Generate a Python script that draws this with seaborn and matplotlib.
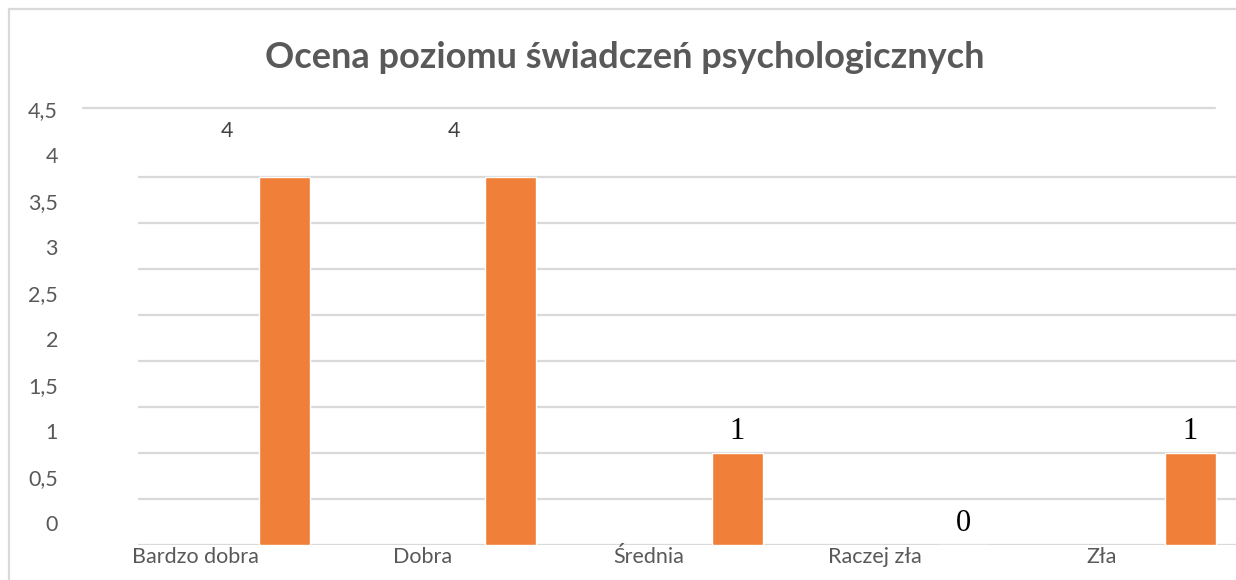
import numpy as np
import matplotlib
matplotlib.use("Agg")
import matplotlib.pyplot as plt
import matplotlib.transforms as mtransforms
from matplotlib.patches import Rectangle
import seaborn as sns

# ---- data ----
categories = ["Bardzo dobra", "Dobra", "Średnia", "Raczej zła", "Zła"]
values = [4, 4, 1, 0, 1]
value_labels = ["4", "4", "1", "0", "1"]
label_styles = ["sans", "sans", "serif", "serif", "serif"]
y_ticks = [0, 0.5, 1, 1.5, 2, 2.5, 3, 3.5, 4, 4.5]
y_tick_labels = ["0", "0,5", "1", "1,5", "2", "2,5", "3", "3,5", "4", "4,5"]
title = "Ocena poziomu świadczeń psychologicznych"

sns.set_theme(style="white")
plt.rcParams["font.family"] = ["Lato", "DejaVu Sans"]

W, H = 1236, 580
fig = plt.figure(figsize=(W / 100, H / 100), dpi=100)
fig.patch.set_facecolor("white")

# outer chart border (only top/left visible in the reference)
fig.patches.append(Rectangle((9 / W, -0.05), 1.1, 1 - 9 / H + 0.05,
                             transform=fig.transFigure, fill=False,
                             edgecolor="#D9D9D9", linewidth=1.6))

ax_left, ax_right = 138, 1236
ax_bottom, ax_top = 545, 108
ax = fig.add_axes([ax_left / W, 1 - ax_bottom / H,
                   (ax_right - ax_left) / W, (ax_bottom - ax_top) / H])

grid_c = "#D9D9D9"
sns.barplot(x=categories, y=values, color="#F08039", saturation=1,
            width=0.225, ax=ax, zorder=3)

ax.set_ylim(0, 4.75)
ax.set_xlim(-0.645, 4.203)
ax.set_yticks(np.arange(0, 4.01, 0.5))
ax.grid(axis="y", color=grid_c, linewidth=1.6, zorder=0)
ax.grid(axis="x", visible=False)
ax.tick_params(left=False, bottom=False, labelleft=False, labelbottom=False)
for s in ax.spines.values():
    s.set_visible(False)
ax.set_xlabel("")
ax.set_ylabel("")

span = ax_right - ax_left
ax.axhline(4.75, xmin=(83 - ax_left) / span, xmax=(1215 - ax_left) / span,
           color=grid_c, linewidth=1.6, clip_on=False, zorder=0)

# y-axis labels (offset upward relative to gridlines, as in the reference)
ytr = mtransforms.blended_transform_factory(ax.transAxes, ax.transData)
for v, lab in zip(y_ticks, y_tick_labels):
    ax.text((58 - ax_left) / span, v + 0.22, lab, transform=ytr,
            ha="right", va="center", fontsize=15.5, color="#595959",
            clip_on=False)

# category labels (shifted left of bars)
for i, cat in enumerate(categories):
    ax.text(i - 0.39, -0.13, cat, ha="center", va="center", fontsize=15.5,
            color="#595959", clip_on=False)

# value labels
for i, (v, lab, st) in enumerate(zip(values, value_labels, label_styles)):
    if st == "sans":
        ax.text(i - 0.25, v + 0.5, lab, ha="center", va="center",
                fontsize=15.5, color="#404040")
    else:
        ax.text(i, v + 0.23, lab, ha="center", va="center", fontsize=22,
                color="black", family=["Liberation Serif", "DejaVu Serif"])

fig.text(625 / W, 1 - 57 / H, title, ha="center", va="center",
         fontsize=26, fontweight="bold", color="#595959")

fig.savefig("out.png", dpi=100)
